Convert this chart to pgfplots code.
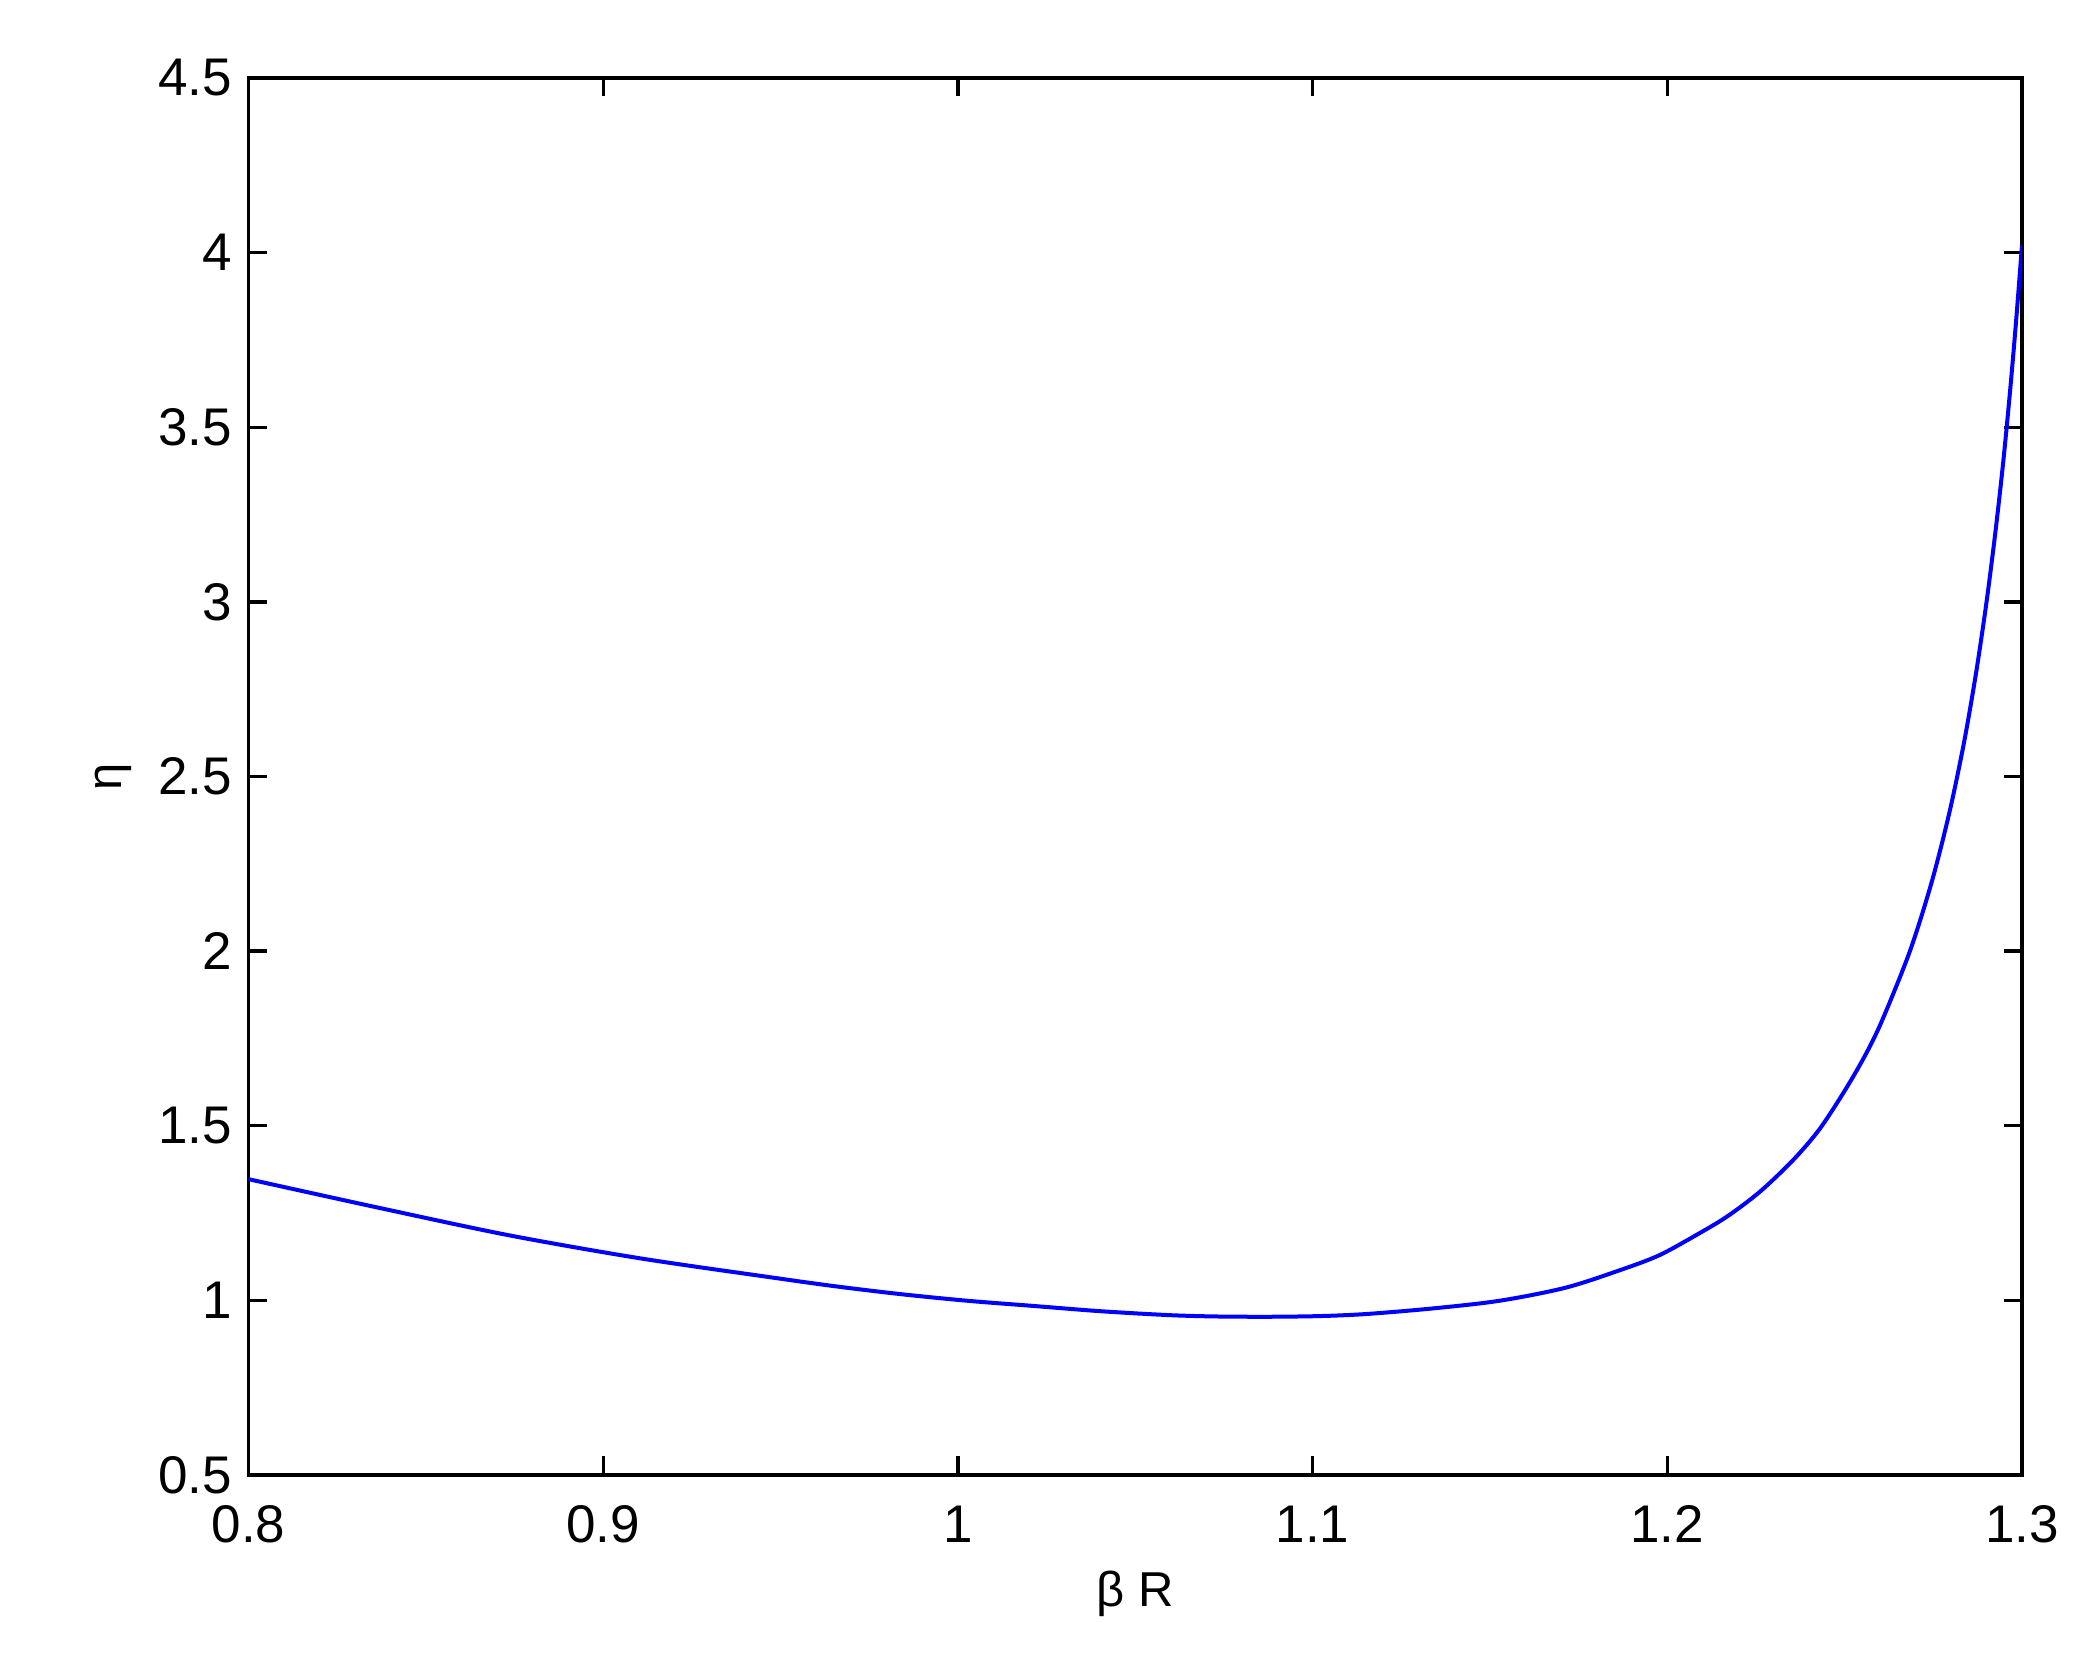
\documentclass[border=0pt]{standalone}
\usepackage{fontspec}
\setmainfont{Liberation Sans}
\usepackage{pgfplots}
\pgfplotsset{compat=1.18}

\begin{document}
\begin{tikzpicture}
\path[use as bounding box] (-49.7pt,-35.6pt) rectangle (369.9pt,295pt);
\begin{axis}[
  at={(0,0)}, anchor=south west,
  scale only axis, width=354.7pt, height=279.4pt,
  xmin=0.8, xmax=1.3, ymin=0.5, ymax=4.5,
  xtick={0.8,0.9,1,1.1,1.2,1.3},
  ytick={0.5,1,1.5,2,2.5,3,3.5,4,4.5},
  tick align=inside, tick pos=both, ticklabel pos=left,
  major tick length=3.7pt,
  axis line style={line width=0.67pt},
  every tick/.style={black, line width=0.67pt},
  /pgf/number format/assume math mode=true,
  tick label style={font=\fontsize{10.6}{12}\selectfont},
  xticklabel style={inner sep=0pt, yshift=-6pt},
  yticklabel style={inner sep=0pt, xshift=-3.1pt},
  label style={font=\fontsize{9.8}{12}\selectfont},
  xlabel={β R},
  ylabel={η},
  xlabel style={at={(axis description cs:0.5,0)}, anchor=base, inner sep=0pt, yshift=-26.4pt},
  ylabel style={at={(axis description cs:0,0.5)}, anchor=center, inner sep=0pt, yshift=27.1pt},
]
\addplot[blue, line width=0.8pt, smooth, no marks] coordinates {
(0.8000,1.347) (0.8354,1.268) (0.8731,1.187) (0.9100,1.121)
(0.9461,1.0676) (0.9649,1.041) (0.9837,1.018) (1.0025,0.999) (1.0213,0.984)
(1.0401,0.969) (1.0589,0.958) (1.0720,0.954) (1.0871,0.953) (1.1021,0.955)
(1.1153,0.961) (1.1340,0.977) (1.1528,0.999) (1.1716,1.037) (1.1885,1.093)
(1.1979,1.130) (1.2073,1.182) (1.2167,1.239) (1.2261,1.311) (1.2355,1.402)
(1.2429,1.490) (1.2500,1.600) (1.2557,1.700) (1.2605,1.800) (1.2684,2.000)
(1.2746,2.200) (1.2796,2.400) (1.2837,2.600) (1.2871,2.800) (1.2900,3.000)
(1.2925,3.200) (1.2947,3.400) (1.2966,3.600) (1.2983,3.800) (1.3000,4.022)
};
\end{axis}
\end{tikzpicture}
\end{document}
